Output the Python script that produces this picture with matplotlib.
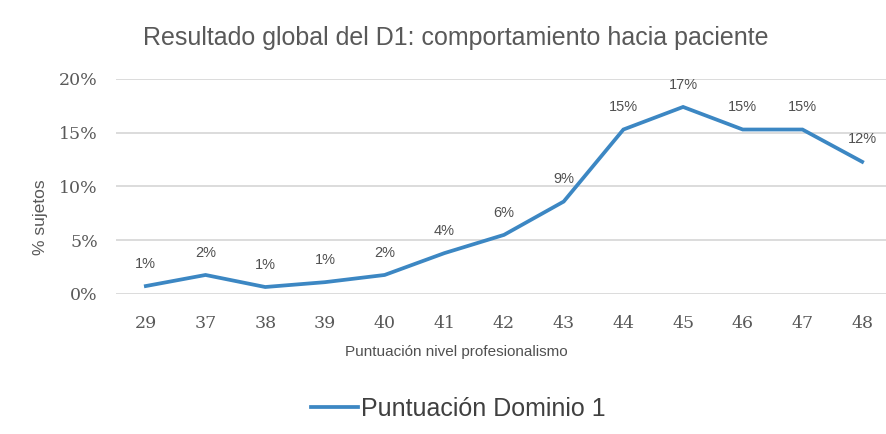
import matplotlib
matplotlib.use("Agg")
import matplotlib.pyplot as plt

categories = ["29", "37", "38", "39", "40", "41", "42", "43", "44", "45", "46", "47", "48"]
values = [0.0074, 0.0177, 0.0065, 0.011, 0.0177, 0.038, 0.055, 0.086, 0.153, 0.174, 0.153, 0.153, 0.123]
labels = ["1%", "2%", "1%", "1%", "2%", "4%", "6%", "9%", "15%", "17%", "15%", "15%", "12%"]
yticks = [0, 0.05, 0.10, 0.15, 0.20]
ytick_labels = ["0%", "5%", "10%", "15%", "20%"]

W, H = 886, 434
fig = plt.figure(figsize=(W / 100, H / 100), dpi=100)
ax = fig.add_axes([116 / W, 1 - 294 / H, (892 - 116) / W, (294 - 79) / H])

color = "#3C87C3"
x = list(range(len(categories)))
ax.plot(x, values, color=color, lw=2.7, solid_joinstyle="miter", label="Puntuación Dominio 1", zorder=3)

for xi, v, lab in zip(x, values, labels):
    ax.annotate(lab, (xi, v), xytext=(0, 11), textcoords="offset points",
                ha="center", va="bottom", fontsize=10.5, color="#505050",
                family="Liberation Sans")

ax.set_xlim(-0.5, len(categories) - 0.5)
ax.set_ylim(0, 0.2)
ax.set_yticks(yticks)
ax.set_yticklabels(ytick_labels)
ax.set_xticks(x)
ax.set_xticklabels(categories)
ax.tick_params(length=0, labelsize=12.5, colors="#595959")
ax.tick_params(axis="x", pad=15)
ax.tick_params(axis="y", pad=13)
for t in ax.get_xticklabels() + ax.get_yticklabels():
    t.set_family("DejaVu Serif")
ax.grid(axis="y", color="#D9D9D9", lw=1.3)
ax.set_axisbelow(True)
for s in ax.spines.values():
    s.set_visible(False)

fig.text(456 / W, 1 - 38 / H, "Resultado global del D1: comportamiento hacia paciente",
         ha="center", va="center", fontsize=18, color="#595959", family="Liberation Sans")
fig.text(40 / W, 1 - 217 / H, "% sujetos", rotation=90, ha="center", va="center",
         fontsize=12.5, color="#595959", family="Liberation Sans")
fig.text(456 / W, 1 - 352 / H, "Puntuación nivel profesionalismo", ha="center", va="center",
         fontsize=11, color="#505050", family="Liberation Sans")

leg = fig.legend(loc="center", bbox_to_anchor=(458 / W, 1 - 409 / H), frameon=False,
                 prop={"family": "Liberation Sans", "size": 18}, handlelength=1.9,
                 handletextpad=0.1, labelcolor="#404040")

fig.savefig("out.png", dpi=100)
